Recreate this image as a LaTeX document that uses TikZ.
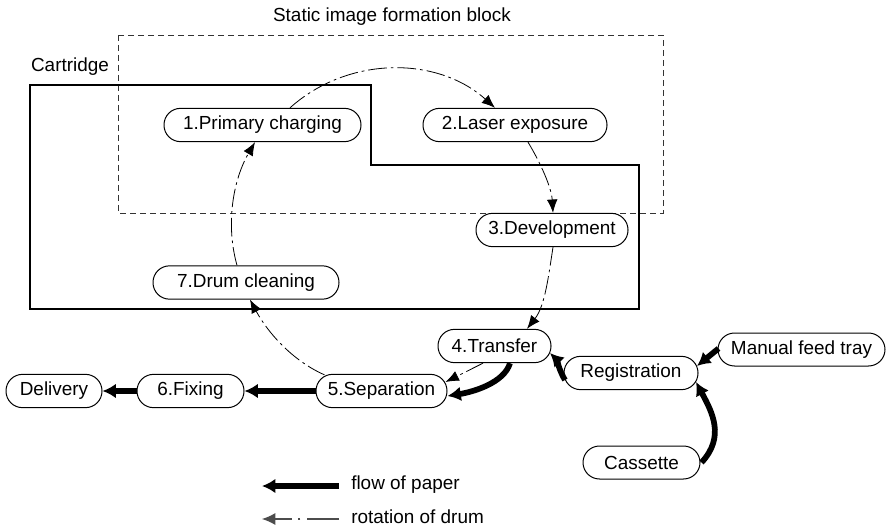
\documentclass[tikz,border=0pt]{standalone}
\usepackage{fontspec}
\setmainfont{Liberation Sans}
\usetikzlibrary{arrows.meta,calc}
\begin{document}
\begin{tikzpicture}[x=0.75pt,y=-0.75pt,
  box/.style={draw, line width=0.75pt, rounded corners=12.4pt, minimum height=25pt, inner sep=0pt, font=\fontsize{14.2}{16}\selectfont},
  lbl/.style={inner sep=0pt, font=\fontsize{14.2}{16}\selectfont},
  drum/.style={line width=0.6pt, dash pattern=on 14pt off 3pt on 2pt off 3pt, -{Latex[length=10pt,width=8pt]}},
  drumkey/.style={line width=0.8pt, black!70, dash pattern=on 24pt off 5pt on 1.5pt off 5pt on 40pt off 0pt, -{Latex[length=10pt,width=9pt]}},
  paper/.style={line width=4.3pt, -{Latex[length=10pt,width=11pt]}},
  cartline/.style={line width=2pt},
  blockline/.style={line width=0.6pt, black!80, dash pattern=on 4.5pt off 3pt},
]
\useasboundingbox (0,0) rectangle (891,527);

% blocks
\draw[blockline] (118,35) rectangle (663,213);
\draw[cartline] (30,85) -- (371,85) -- (371,165) -- (639,165) -- (639,309) -- (30,309) -- cycle;
\node[lbl] (title) at (392,17) {Static image formation block};
\node[lbl] (cart) at (70,67) {Cartridge};

% nodes
\node[box, minimum width=147.75pt] (n1) at (262.5,125) {1.Primary charging};
\node[box, minimum width=138pt] (n2) at (515,125) {2.Laser exposure};
\node[box, minimum width=114pt] (n3) at (552,230) {3.Development};
\node[box, minimum width=84.75pt] (n4) at (494.5,346) {4.Transfer};
\node[box, minimum width=98.25pt] (n5) at (381.5,391) {5.Separation};
\node[box, minimum width=80.25pt] (n6) at (190.5,391) {6.Fixing};
\node[box, minimum width=72pt] (del) at (54,391) {Delivery};
\node[box, minimum width=139.5pt] (n7) at (246,282.5) {7.Drum cleaning};
\node[box, minimum width=100.5pt] (reg) at (631,373) {Registration};
\node[box, minimum width=125.25pt, minimum height=24.75pt] (man) at (801.5,349.5) {Manual feed tray};
\node[box, minimum width=87.75pt, minimum height=24.75pt] (cas) at (641.5,462.5) {Cassette};

% drum rotation
\draw[drum] ($(n1.north)+(27.5,0)$) .. controls +(58,-52) and +(-58,-52) .. ($(n2.north)+(-20,0)$);
\draw[drum] ($(n2.south)+(13,0)$) .. controls +(13,21.5) and +(-1.5,-25) .. ($(n3.north)+(1,0)$);
\draw[drum] ($(n3.south)+(1,0)$) .. controls +(-4.5,29) and +(18,-23) .. ($(n4.north)+(32.5,0)$);
\draw[drum] ($(n4.south)+(-11.5,0)$) -- ($(n5.east)+(-2,-9)$);
\draw[drum] ($(n5.north west)+(9,1)$) .. controls +(-33,-14.5) and +(17,31.6) .. ($(n7.south)+(4,0)$);
\draw[drum] ($(n7.north)+(-9,0)$) .. controls +(-11.7,-41.7) and +(-21.7,37.3) .. ($(n1.south)+(-7.5,0)$);

% paper flow
\draw[paper] (n5.west) -- (n6.east);
\draw[paper] (n6.west) -- (del.east);
\draw[paper] ($(reg.west)+(1.5,7)$) .. controls +(-5,-8) and +(6,6) .. ($(n4.east)+(-1.5,7)$);
\draw[paper] ($(n4.south)+(15.5,0)$) .. controls +(-6,20) and +(25,-4) .. ($(n5.east)+(0,5)$);
\draw[paper] ($(man.west)+(1,-1)$) -- ($(reg.east)+(-1.5,-7)$);
\draw[paper] ($(cas.east)+(1,0)$) .. controls +(24,-26) and +(16,30) .. ($(reg.east)+(-2.5,9)$);

% legend
\node[lbl, anchor=west] (lp) at (351,485) {flow of paper};
\node[lbl, anchor=west] (lr) at (351,517) {rotation of drum};
\coordinate (lpe) at (262,486);
\coordinate (lre) at (262,519);
\draw[paper] ($(lp.west)+(-12,1)$) -- (lpe);
\draw[drumkey] ($(lr.west)+(-12,2)$) -- (lre);
\end{tikzpicture}
\end{document}
